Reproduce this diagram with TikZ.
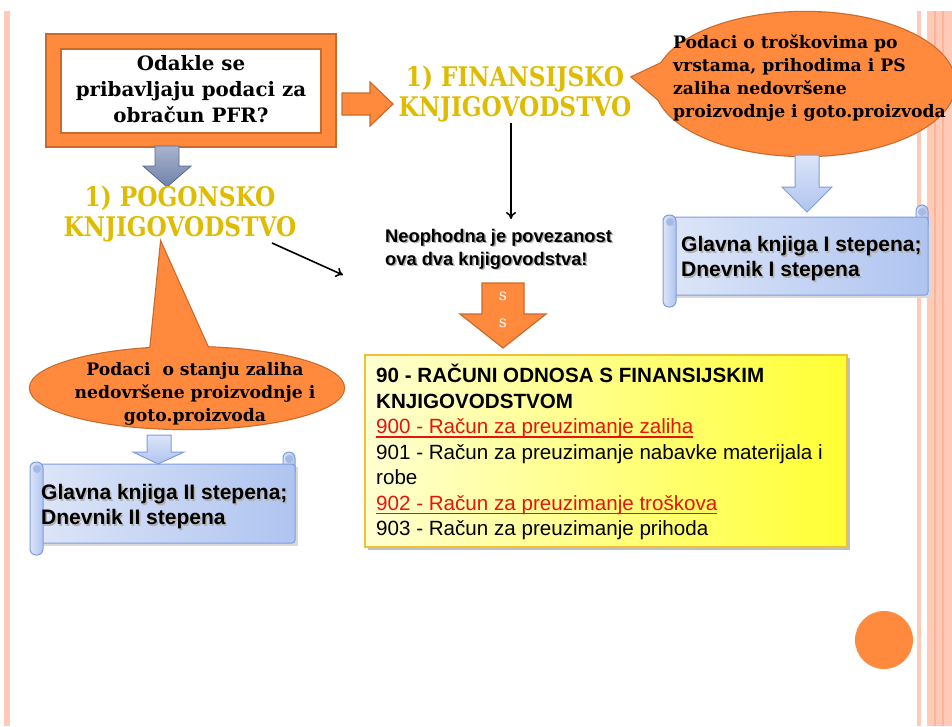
\documentclass[tikz,border=0pt]{standalone}
\usepackage{fontspec}
\newfontfamily\arialf{Liberation Sans}
\newfontfamily\serf{DejaVu Serif}
\usetikzlibrary{arrows.meta}
\definecolor{org}{HTML}{FF8A3D}
\definecolor{orgdk}{HTML}{C96A2C}
\definecolor{stripe}{HTML}{FFCBB8}
\definecolor{stripedk}{HTML}{FFB396}
\definecolor{gold}{HTML}{E0BC00}
\definecolor{slate}{HTML}{6F82AB}
\definecolor{lbl}{HTML}{DCE5F8}
\definecolor{lbr}{HTML}{AFC4F0}
\definecolor{lbedge}{HTML}{7F9DDB}
\definecolor{ybord}{HTML}{EDC236}
\definecolor{redt}{HTML}{E8140C}
\newcommand\myredul[1]{\setbox0\hbox{#1}\rlap{\color{redt}\rule[-4.2pt]{\wd0}{1.8pt}}\box0}
\tikzset{
  orgshape/.style={fill=org, draw=orgdk, line width=1.2pt},
  bluearrow/.style={top color=lbl, bottom color=lbr, draw=lbedge, line width=1pt},
  scrl/.style={left color=lbl, right color=lbr, draw=lbedge, line width=1pt},
  blk/.style={-{To[length=7pt,width=10pt]}, line width=1.6pt, black},
  serifbig/.style={font=\serf\bfseries\fontsize{19.8}{26}\selectfont, align=center, inner sep=0pt},
  bubtext/.style={font=\serf\bfseries\fontsize{17.2}{23}\selectfont, inner sep=0pt},
  goldtext/.style={text=gold, font=\serf\bfseries\fontsize{27}{29}\selectfont, align=center, inner sep=0pt},
  sans/.style={font=\arialf\bfseries\fontsize{18.3}{23}\selectfont, align=left, inner sep=0pt},
  scrolltext/.style={font=\arialf\bfseries\fontsize{21}{25}\selectfont, align=left, anchor=west, inner sep=0pt},
}
\newcommand\myscroll[4]{%
  \fill[black!15] ({#1+13},{#2+15}) rectangle ({#3+3},{#4-9});
  \draw[scrl,rounded corners=6] ({#3-12},{#2+20}) -- ({#3-12},{#2}) -- (#3,#2) -- (#3,{#2+20});
  \draw[scrl,rounded corners=3] ({#1+10},{#2+12}) rectangle (#3,{#4-12});
  \draw[scrl,rounded corners=6] (#1,{#2+10}) rectangle ({#1+13},#4);
  \fill[lbedge!70] ({#1+7},{#2+17}) circle (4);
  \fill[lbedge!70] ({#3-6},{#2+7}) circle (4);
}
\begin{document}
\begin{tikzpicture}[x=1pt,y=-1pt]
\useasboundingbox (0,0) rectangle (952,726);
\fill[white] (0,0) rectangle (952,726);
% border stripes
\fill[stripe] (4,11) rectangle (10,726);
\fill[stripe] (917,11) rectangle (921,726);
\fill[stripe] (927,11) rectangle (952,726);
\fill[stripedk] (934,11) rectangle (936,726);
\fill[stripedk] (942,11) rectangle (944,726);

% question box
\draw[orgshape] (46,34) rectangle (336,147);
\draw[fill=white, draw=orgdk, line width=1.2pt] (61,49) rectangle (321,133);
\node[serifbig] (q) at (191,89) {Odakle se\\pribavljaju podaci za\\obračun PFR?};

% arrow right
\draw[orgshape] (342,93) -- (370,93) -- (370,82) -- (393,104) -- (370,126) -- (370,115) -- (342,115) -- cycle;

% slate down arrow
\draw[top color=slate!60!white, bottom color=slate, draw=slate!80!black, line width=0.8pt]
  (155,146) -- (179,146) -- (179,166) -- (191,166) -- (167,187) -- (143,166) -- (155,166) -- cycle;

% gold titles
\node[goldtext] (fin) at (515,94) {\scalebox{0.86}[1]{1) FINANSIJSKO}\\[1pt]\scalebox{0.86}[1]{KNJIGOVODSTVO}};
\node[goldtext] (pog) at (180,214) {\scalebox{0.86}[1]{1) POGONSKO}\\[1pt]\scalebox{0.86}[1]{KNJIGOVODSTVO}};

% right bubble
\draw[draw=orgdk, line width=2.4pt] (805,84) ellipse (150 and 72);
\draw[draw=orgdk, line width=2.4pt] (668,60) -- (632,77) -- (668,108) -- cycle;
\fill[org] (805,84) ellipse (150 and 72);
\fill[org] (668,60) -- (632,77) -- (668,108) -- cycle;
\node[bubtext, align=left, anchor=west] (bubr) at (673,78) {Podaci o troškovima po\\vrstama, prihodima i PS\\zaliha nedovršene\\proizvodnje i goto.proizvoda};

% right blue arrow and scroll
\myscroll{663}{205}{928}{307}
\draw[bluearrow] (795,155) -- (819,155) -- (819,187) -- (832,187) -- (807,212) -- (782,187) -- (795,187) -- cycle;
\node[scrolltext, text=black!30] at (682.5,260.5) {Glavna knjiga I stepena;\\Dnevnik I stepena};
\node[scrolltext] (gk1) at (681,259) {Glavna knjiga I stepena;\\Dnevnik I stepena};

% left bubble
\draw[draw=orgdk, line width=2.4pt] (187,388) ellipse (157 and 41);
\draw[draw=orgdk, line width=2.4pt] (150,352) -- (161,243) -- (210,352) -- cycle;
\fill[org] (187,388) ellipse (157 and 41);
\fill[org] (150,352) -- (161,243) -- (210,352) -- cycle;
\node[bubtext, align=center] (bubl) at (195,394) {Podaci\ \ o stanju zaliha\\nedovršene proizvodnje i\\goto.proizvoda};

% left scroll and arrow
\myscroll{30}{452}{295}{555}
\draw[bluearrow] (147,435) -- (171,435) -- (171,452) -- (184,452) -- (158,464) -- (133,452) -- (147,452) -- cycle;
\node[scrolltext, text=black!30] at (42.5,508.5) {Glavna knjiga II stepena;\\Dnevnik II stepena};
\node[scrolltext] (gk2) at (41,507) {Glavna knjiga II stepena;\\Dnevnik II stepena};

% middle
\node[sans, anchor=west, text=black!30] at (386.5,250.5) {Neophodna je povezanost\\ova dva knjigovodstva!};
\node[sans, anchor=west] (neo) at (385,249) {Neophodna je povezanost\\ova dva knjigovodstva!};
\coordinate (fa) at (511,123);
\coordinate (fb) at (511,219);
\draw[blk] (fa) -- (fb);
\coordinate (pa) at (272,243);
\coordinate (pb) at (343,275);
\draw[blk] (pa) -- (pb);

% s s arrow
\draw[orgshape] (482,283) -- (524,283) -- (524,314) -- (546,314) -- (503,348) -- (460,314) -- (482,314) -- cycle;
\node[text=white, font=\serf\fontsize{16}{16}\selectfont] (s1) at (503,296) {s};
\node[text=white, font=\serf\fontsize{16}{16}\selectfont] (s2) at (503,323) {s};

% yellow box
\fill[black!25] (368,358) rectangle (850,550);
\draw[left color=yellow!18, right color=yellow!80, draw=ybord, line width=1.2pt] (365,355) rectangle (847,547);
\node[font=\arialf\fontsize{20.6}{25.5}\selectfont, align=left, anchor=west, inner sep=0pt] (yb) at (376,452) {%
\textbf{90 - RAČUNI ODNOSA S FINANSIJSKIM}\\
\textbf{KNJIGOVODSTVOM}\\
\myredul{\textcolor{redt}{900 - Račun za preuzimanje zaliha}}\\
901 - Račun za preuzimanje nabavke materijala i\\
robe\\
\myredul{\textcolor{redt}{902 - Račun za preuzimanje troškova}}\\
903 - Račun za preuzimanje prihoda};

% circle
\fill[org] (884,640) circle (29);
\end{tikzpicture}
\end{document}
